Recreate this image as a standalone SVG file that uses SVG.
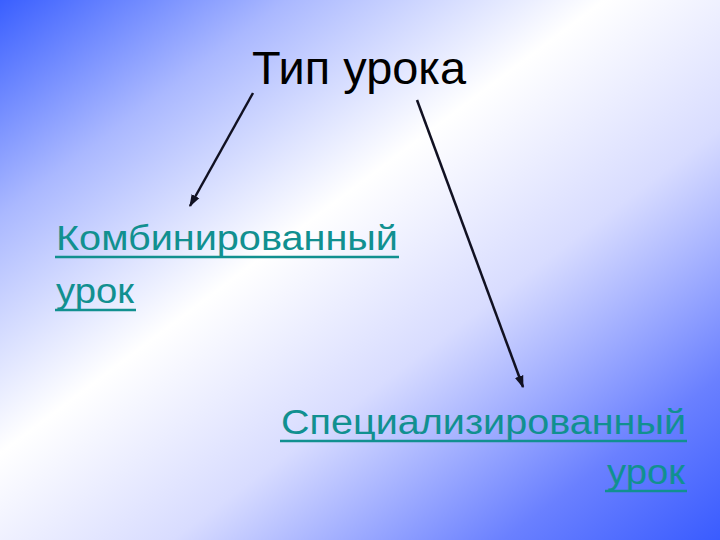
<svg xmlns="http://www.w3.org/2000/svg" width="720" height="540" viewBox="0 0 720 540">
<defs>
<linearGradient id="bg" gradientUnits="userSpaceOnUse" x1="0" y1="0" x2="518" y2="691">
<stop offset="0" stop-color="#3a5fff"/>
<stop offset="0.2" stop-color="#aab8ff"/>
<stop offset="0.42" stop-color="#ffffff"/>
<stop offset="0.62" stop-color="#d8dcff"/>
<stop offset="0.85" stop-color="#6a80ff"/>
<stop offset="1" stop-color="#3a5cff"/>
</linearGradient>
<marker id="ah" viewBox="0 0 10 10" refX="9" refY="5" markerWidth="5" markerHeight="5" orient="auto" markerUnits="strokeWidth">
<path d="M0,1.5 L10,5 L0,8.5 Z" fill="#111122"/>
</marker>
<style>
.t{font-family:"Liberation Sans",Arial,sans-serif;}
.title{font-size:46px;fill:#000;}
.lnk{font-size:35px;fill:#119090;}
.u{stroke:#119090;stroke-width:2.5;}
.c{stroke:#111122;stroke-width:2.5;fill:none;marker-end:url(#ah);}
</style>
</defs>
<rect width="720" height="540" fill="url(#bg)"/>
<g id="connectors">
<line class="c" x1="253" y1="93" x2="190" y2="206"/>
<line class="c" x1="417" y1="100" x2="523" y2="387"/>
</g>
<g id="title">
<text class="t title" x="252" y="84" textLength="214" lengthAdjust="spacingAndGlyphs">Тип урока</text>
</g>
<g id="combined">
<text class="t lnk" x="56" y="250" textLength="342" lengthAdjust="spacingAndGlyphs">Комбинированный</text>
<line class="u" x1="55" y1="257" x2="399" y2="257"/>
<text class="t lnk" x="56" y="303" textLength="78" lengthAdjust="spacingAndGlyphs">урок</text>
<line class="u" x1="55" y1="310" x2="136" y2="310"/>
</g>
<g id="special">
<text class="t lnk" x="281" y="434" textLength="405" lengthAdjust="spacingAndGlyphs">Специализированный</text>
<line class="u" x1="280" y1="441" x2="687" y2="441"/>
<text class="t lnk" x="685" y="484" text-anchor="end" textLength="78" lengthAdjust="spacingAndGlyphs">урок</text>
<line class="u" x1="605" y1="491" x2="687" y2="491"/>
</g>
</svg>
